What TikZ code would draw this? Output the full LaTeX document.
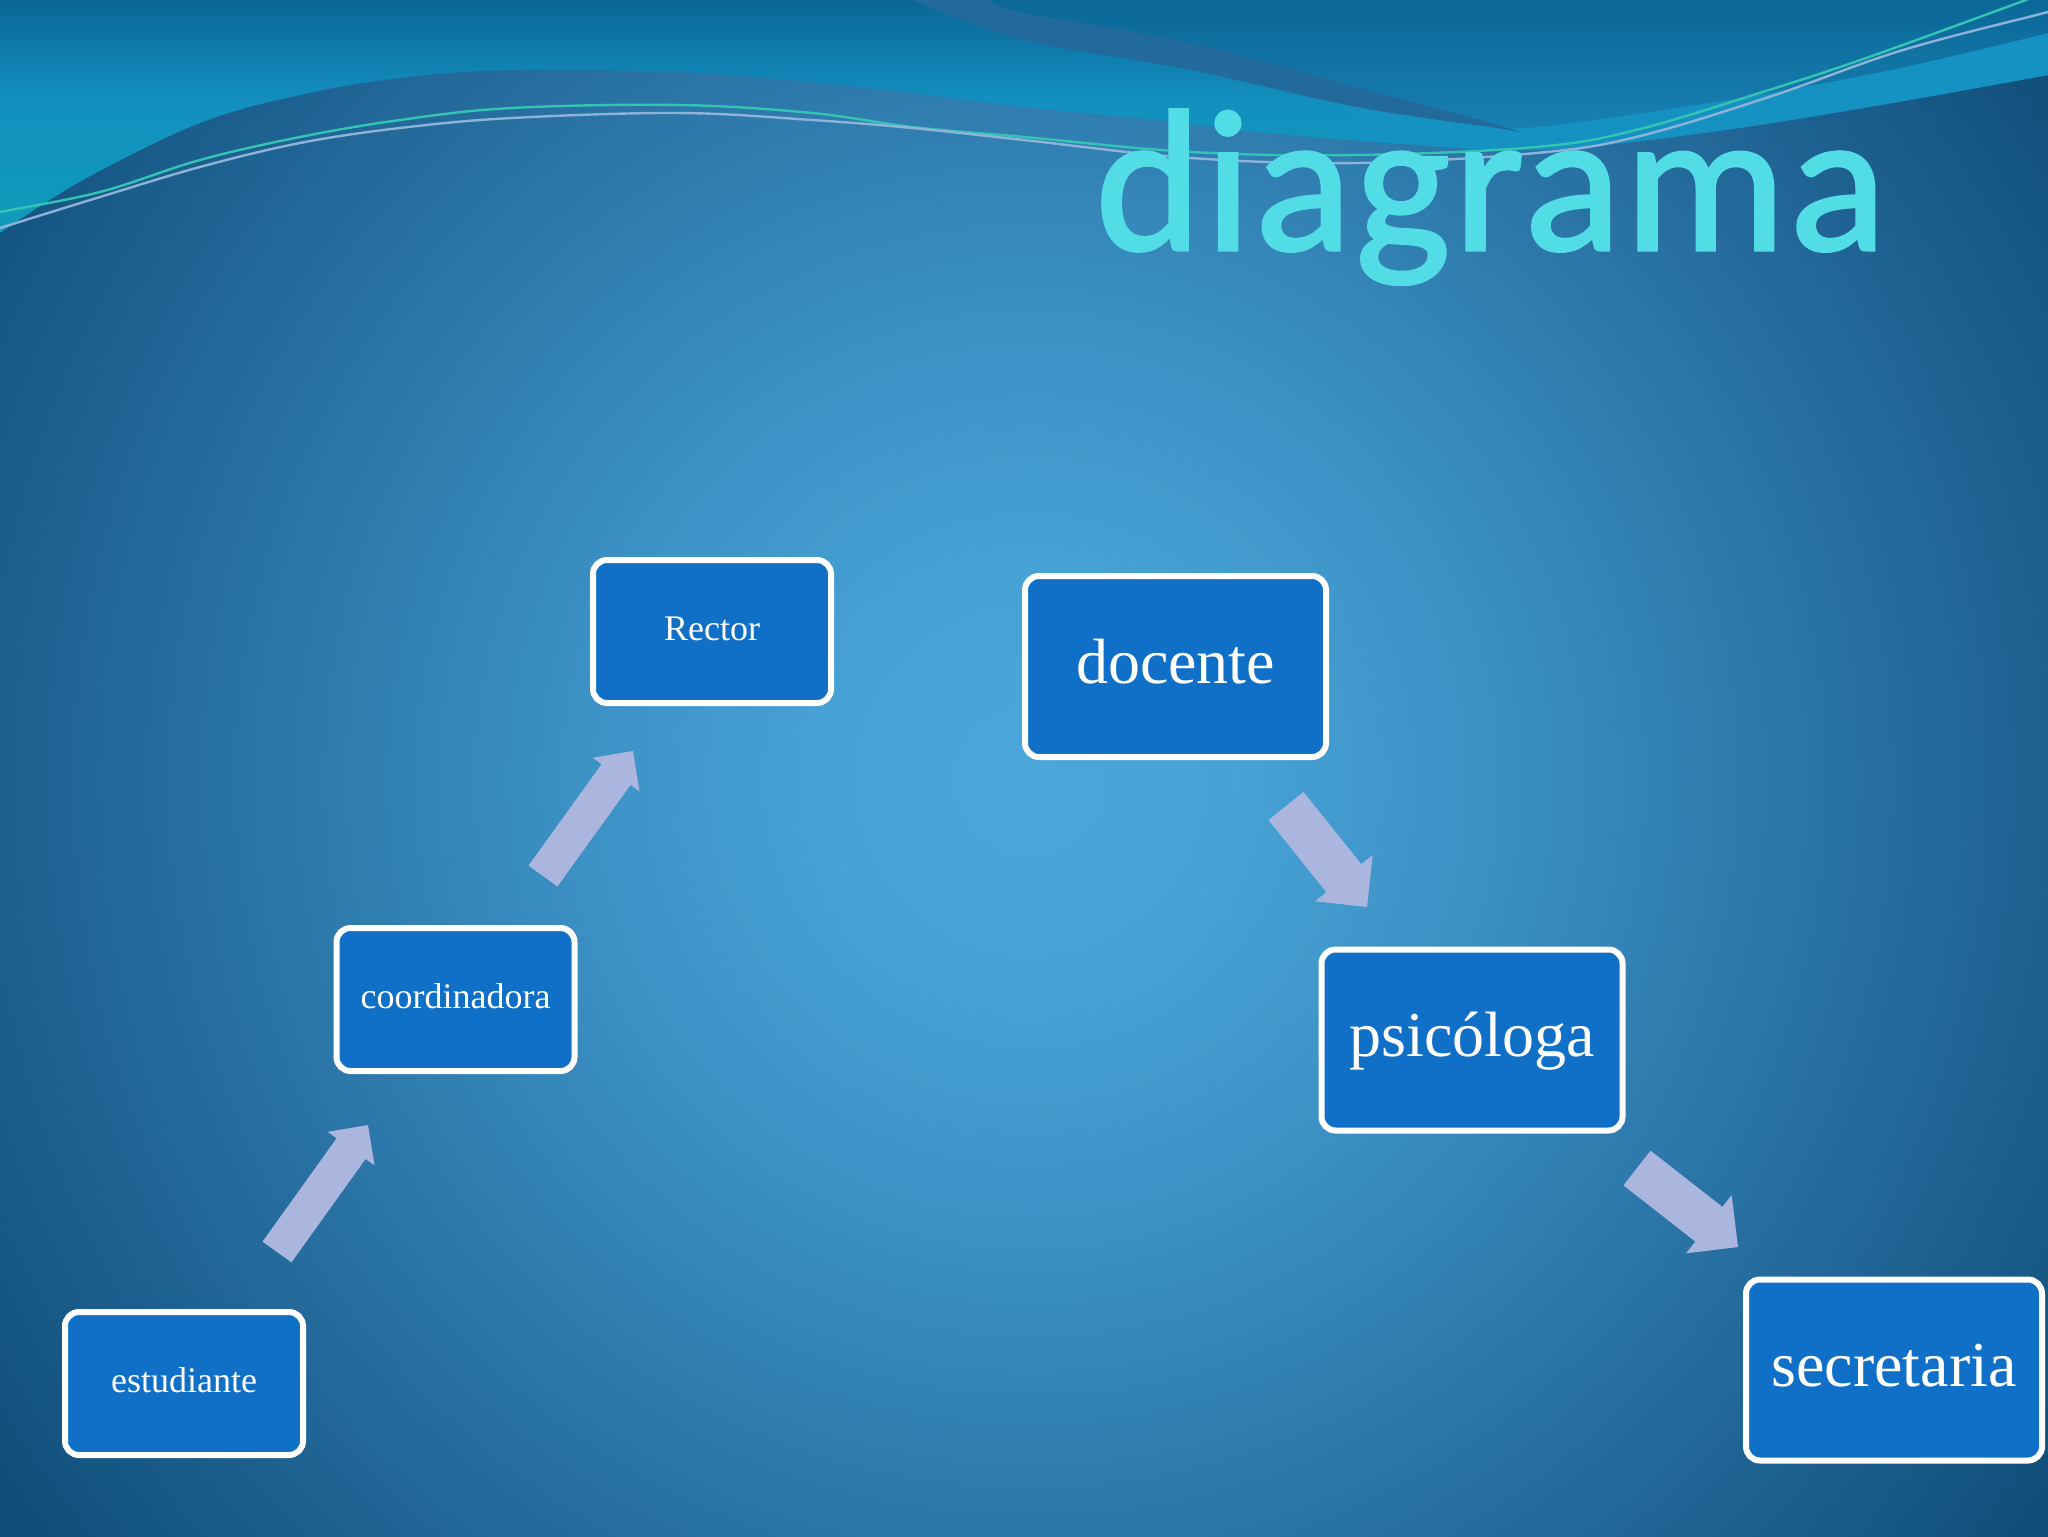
\documentclass[tikz,border=0pt]{standalone}
\usepackage{fontspec}
\setmainfont{Liberation Serif}
\newfontfamily\titlefont[FakeBold=1.5, LetterSpace=1.8]{Carlito}
\usetikzlibrary{calc}

\definecolor{bgc0}{HTML}{4BA7DB}
\definecolor{bgc1}{HTML}{47A2D5}
\definecolor{bgc2}{HTML}{3C91C5}
\definecolor{bgc3}{HTML}{2C77A9}
\definecolor{bgc4}{HTML}{1E6292}
\definecolor{bgc5}{HTML}{0E4A74}
\definecolor{tb0}{HTML}{0E9CB8}
\definecolor{tb1}{HTML}{1390C0}
\definecolor{tb2}{HTML}{0A6797}
\definecolor{urtop}{HTML}{0B6898}
\definecolor{urbot}{HTML}{1880B2}
\definecolor{bandc}{HTML}{1592C2}
\definecolor{crescentc}{HTML}{236A9C}
\definecolor{lineA}{HTML}{34C4B4}
\definecolor{lineB}{HTML}{8DB3D9}
\definecolor{boxblue}{HTML}{106FC7}
\definecolor{arrowc}{HTML}{ABB6DE}
\definecolor{titlecyan}{HTML}{52DCE6}

\pgfdeclareradialshading{bgshade}{\pgfpoint{0bp}{0bp}}{%
  color(0bp)=(bgc0); color(3.85bp)=(bgc1); color(8.65bp)=(bgc2);
  color(14.4bp)=(bgc3); color(19.2bp)=(bgc4); color(25bp)=(bgc5); color(50bp)=(bgc5)}
\pgfdeclareverticalshading{topshade}{100bp}{%
  color(0bp)=(tb0); color(25bp)=(tb0); color(53bp)=(tb1); color(75bp)=(tb2); color(100bp)=(tb2)}

\newcommand{\blockarrow}[5]{%
  \coordinate (bahead) at ($(#2)!#5!(#1)$);
  \fill[arrowfill] ($(#1)!#3!90:(#2)$) -- ($(bahead)!#3!90:(#2)$) -- ($(bahead)!#4!90:(#2)$)
    -- (#2) -- ($(bahead)!#4!-90:(#2)$) -- ($(bahead)!#3!-90:(#2)$) -- ($(#1)!#3!-90:(#2)$) -- cycle;}

\tikzset{
  box/.style={draw=white, line width=3pt, fill=boxblue, rounded corners=7pt,
    inner sep=0pt, text=white, align=center},
  smallbox/.style={box, minimum width=119pt, minimum height=71.5pt,
    font=\fontsize{18}{22}\selectfont, text height=13.9pt, text depth=4.5pt},
  bigbox/.style={box, minimum width=150.5pt, minimum height=90.5pt,
    font=\fontsize{32}{38}\selectfont, text height=24.6pt, text depth=8pt},
  arrowfill/.style={fill=arrowc},
  thinwave/.style={line width=1.2pt},
}

\begin{document}
\begin{tikzpicture}[x=0.5pt,y=-0.5pt]
\useasboundingbox (0,0) rectangle (2048,1536);
\begin{scope}
\clip (0,0) rectangle (2048,1536);
% background
\fill[bgc5] (0,0) rectangle (2048,1536);
\shade[shading=bgshade] (1030,780) circle (650pt);
% top wave region
\shade[shading=topshade] (0,0) -- plot[smooth,tension=0.6] coordinates {(0,233) (83,180) (200,123) (300,95) (400,78) (512,70) (679,72) (812,82) (912,93) (1024,107) (1157,120) (1257,132) (1391,143) (1536,150) (1703,133) (1869,107) (2048,75)} -- (2048,0) -- cycle;
\begin{scope}
\clip (0,0) -- plot[smooth,tension=0.6] coordinates {(0,233) (83,180) (200,123) (300,95) (400,78) (512,70) (679,72) (812,82) (912,93) (1024,107) (1157,120) (1257,132) (1391,143) (1536,150) (1703,133) (1869,107) (2048,75)} -- (2048,0) -- cycle;
\fill[bandc] (1357,107) -- plot[smooth,tension=0.6] coordinates {(1357,107) (1491,127) (1536,127) (1650,112) (1769,93) (1900,68) (2048,33)} -- (2060,33) -- (2060,300) -- (1357,300) -- cycle;
\end{scope}
% upper right darker region
\shade[top color=urtop, bottom color=urbot] (989,0) -- plot[smooth,tension=0.6] coordinates {(989,0) (1024,13) (1191,43) (1357,87) (1491,123) (1536,127) (1650,112) (1769,93) (1900,68) (2048,33)} -- (2060,33) -- (2060,0) -- cycle;
% dark crescent
\fill[crescentc] (989,0) -- plot[smooth,tension=0.6] coordinates {(989,0) (1024,13) (1191,43) (1357,87) (1491,123) (1520,132)} -- plot[smooth,tension=0.6] coordinates {(1491,127) (1357,107) (1191,70) (1024,40) (912,0)} -- cycle;
% thin lines
\draw[thinwave, lineA] plot[smooth,tension=0.6] coordinates {(-5,214) (0,212) (100,192) (200,160) (300,137) (400,120) (512,108) (679,105) (812,113) (912,127) (1024,137) (1191,152) (1357,155) (1536,147) (1636,130) (1769,90) (1869,57) (2026,0) (2040,-6)};
\draw[thinwave, lineB] plot[smooth,tension=0.6] coordinates {(-5,230) (0,228) (100,197) (200,167) (300,143) (400,128) (512,118) (679,113) (812,120) (912,128) (1024,140) (1191,158) (1357,163) (1536,153) (1636,137) (1769,97) (1903,50) (2048,12) (2060,8)};
\end{scope}

% title
\node[anchor=base west, inner sep=0pt, font=\titlefont\fontsize{101}{112}\selectfont,
  text=titlecyan] (title) at (1095,250) {diagrama};

% boxes
\node[smallbox] (est) at (184,1383.5) {estudiante};
\node[smallbox] (coord) at (455.5,999.5) {coordinadora};
\node[smallbox] (rector) at (712,631.5) {Rector};
\node[bigbox] (doc) at (1175.5,666.5) {docente};
\node[bigbox] (psi) at (1472,1040) {psicóloga};
\node[bigbox, minimum width=148pt] (sec) at (1894,1370) {secretaria};

% block arrows
\coordinate (a1s) at (277,1252); \coordinate (a1e) at (368,1125);
\coordinate (a2s) at (543,876);  \coordinate (a2e) at (633,751);
\coordinate (a3s) at (1286,806); \coordinate (a3e) at (1367,907);
\coordinate (a4s) at (1637,1168); \coordinate (a4e) at (1738,1247);
\blockarrow{a1s}{a1e}{8.9pt}{14.4pt}{14.5pt}
\blockarrow{a2s}{a2e}{8.9pt}{14.4pt}{14.5pt}
\blockarrow{a3s}{a3e}{11.2pt}{18.5pt}{18.5pt}
\blockarrow{a4s}{a4e}{11pt}{18.5pt}{18.5pt}
\end{tikzpicture}
\end{document}
